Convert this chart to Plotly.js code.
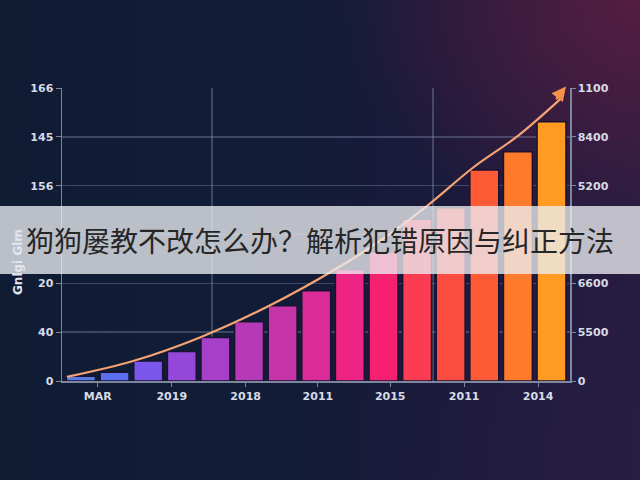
<!DOCTYPE html>
<html>
<head>
<meta charset="utf-8">
<script src="https://cdn.plot.ly/plotly-3.0.1.min.js"></script>
<style>
html,body{margin:0;padding:0;}
#wrap{width:640px;height:480px;position:relative;overflow:hidden;
background:
 radial-gradient(ellipse 300px 240px at 640px 0px, rgba(105,30,68,0.7), rgba(105,30,68,0) 100%),
 radial-gradient(ellipse 300px 300px at 640px 480px, rgba(40,30,70,0.55), rgba(40,30,70,0) 100%),
 linear-gradient(90deg, #101c34 0%, #111c36 40%, #1b1a3b 70%, #271c40 100%);}
#chart{width:640px;height:480px;}
</style>
</head>
<body>
<div id="wrap"><div id="chart"></div></div>
<script>
// Bar values (15 bars)
const barValues = [2.4, 4.5, 10.2, 15.1, 22.3, 30.3, 38.5, 46.2, 57.1, 66.1, 82.8, 88.7, 108, 117.3, 132.7];
const barColors = ['#5679e6','#5b6ef0','#7a57ea','#9447d8','#a83fc8','#b63ab8','#c535a8','#d92c98','#ee2484','#f52070','#fc3c52','#fd4c42','#ff5a36','#ff7a2a','#ff9a22'];
// Trend curve points
const trendX = [-0.42, 1.6, 3.54, 5.6, 7.62, 9.0, 10.3, 11.67, 13.0, 14.26];
const trendY = [2.1, 10.5, 22.3, 38.5, 57.7, 73.0, 89.7, 109.3, 125.5, 144.3];
// Tick labels
const xTickLabels = ['MAR','2019','2018','2011','2015','2011','2014'];
const yLeftLabels = ['0','40','20','','156','145','166'];
const yRightLabels = ['0','5500','6600','','5200','8400','1100'];
const bannerText = '狗狗屡教不改怎么办？解析犯错原因与纠正方法';
const yTitle = 'Gnlgi Glm';

const barX = barValues.map((v,i)=>i);
const tickFont = {family:'DejaVu Sans', size:11, color:'#d6dbe6', weight:'bold'};
const gridCol = 'rgba(150,165,195,0.32)';
const axisCol = '#7d879e';

const traces = [
 {type:'bar', x:barX, y:barValues, marker:{color:barColors, line:{color:'#1a1230', width:1.5}}, hoverinfo:'none', xaxis:'x', yaxis:'y'},
 {type:'scatter', mode:'lines', x:trendX, y:trendY, line:{color:'#f4a374', width:2.2, shape:'spline', smoothing:1}, cliponaxis:false, hoverinfo:'none', xaxis:'x', yaxis:'y'},
 {type:'scatter', x:[0], y:[0], yaxis:'y2', xaxis:'x', mode:'markers', marker:{opacity:0}, hoverinfo:'none'},
 {type:'scatter', x:[0], y:[0], yaxis:'y', xaxis:'x2', mode:'markers', marker:{opacity:0}, hoverinfo:'none'}
];

const layout = {
 width:640, height:480,
 paper_bgcolor:'rgba(0,0,0,0)', plot_bgcolor:'rgba(0,0,0,0)',
 margin:{l:62, r:70, t:88, b:99},
 showlegend:false, bargap:0.14,
 xaxis:{range:[-0.565,14.55], tickmode:'array', tickvals:[0.5,2.7,4.9,7.05,9.2,11.4,13.6], ticktext:xTickLabels,
   tickfont:tickFont, showgrid:false, zeroline:false, showline:true, linecolor:axisCol, linewidth:1.5,
   ticks:'outside', ticklen:4, tickcolor:axisCol, fixedrange:true},
 xaxis2:{overlaying:'x', range:[-0.565,14.55], tickmode:'array', tickvals:[3.9,10.48], showticklabels:false,
   showgrid:true, gridcolor:gridCol, gridwidth:1.5, zeroline:false, showline:false, ticks:''},
 yaxis:{range:[0,150], tickmode:'array', tickvals:[0,25,50,75,100,125,150], ticktext:yLeftLabels,
   tickfont:tickFont, showgrid:true, gridcolor:gridCol, gridwidth:1.5, zeroline:false, showline:true,
   linecolor:axisCol, linewidth:1.5, ticks:'outside', ticklen:5, tickcolor:axisCol},
 yaxis2:{overlaying:'y', side:'right', range:[0,150], tickmode:'array', tickvals:[0,25,50,75,100,125,150], ticktext:yRightLabels,
   tickfont:tickFont, showgrid:false, zeroline:false, showline:true, linecolor:axisCol, linewidth:1.5,
   ticks:'outside', ticklen:4, tickcolor:axisCol},
 shapes:[
  {type:'rect', xref:'paper', yref:'paper', x0:-62/508, x1:(640-62)/508, y0:(480-99-274)/293, y1:(480-99-206)/293,
   fillcolor:'rgba(236,237,241,0.78)', line:{width:0}, layer:'above'}
 ],
 annotations:[
  {xref:'x', yref:'y', x:14.43, y:150.8, axref:'x', ayref:'y', ax:14.1, ay:143.5, text:'', showarrow:true,
   arrowhead:2, arrowsize:1.3, arrowwidth:2.2, arrowcolor:'#f2924a', standoff:0},
  {xref:'paper', yref:'paper', x:(18-62)/508, y:(480-99-262)/293, xanchor:'center', yanchor:'middle', textangle:-90,
   text:yTitle, showarrow:false, font:{family:'DejaVu Sans', size:12, color:'#e2e6ef', weight:'bold'}},
  {xref:'paper', yref:'paper', x:(320-62)/508, y:(480-99-240)/293, xanchor:'center', yanchor:'middle',
   text:bannerText, showarrow:false, font:{family:'Noto Sans CJK SC', size:28, color:'#262626'}}
 ]
};

Plotly.newPlot('chart', traces, layout, {staticPlot:true, displayModeBar:false});
</script>
</body>
</html>
